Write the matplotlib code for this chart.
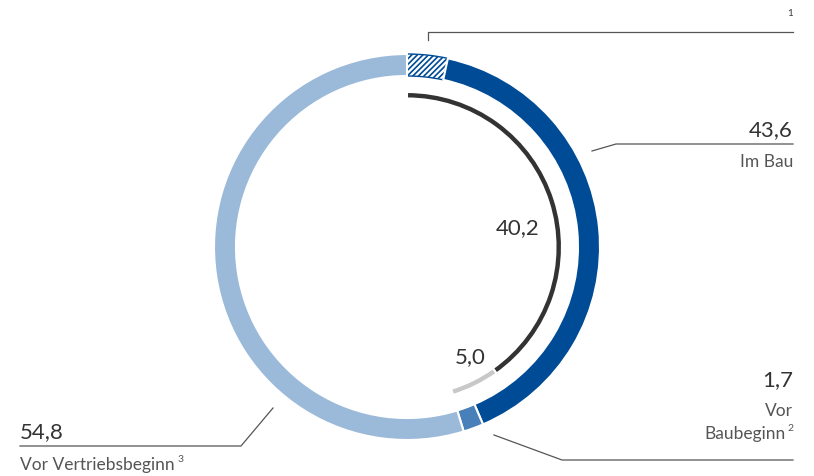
import matplotlib
matplotlib.use('Agg')
import matplotlib.pyplot as plt

plt.rcParams['font.family'] = ['Lato', 'DejaVu Sans']
plt.rcParams['hatch.color'] = '#004b96'
plt.rcParams['hatch.linewidth'] = 1.2

# outer ring (percent)
outer_labels = ['Hatched', 'Im Bau', 'Vor Baubeginn', 'Vor Vertriebsbeginn']
outer_values = [3.4, 40.2, 1.7, 54.8]
outer_colors = ['white', '#004b96', '#4a80b9', '#9bb9d9']

# inner arc
inner_values = [40.2, 5.0, 54.8]
inner_colors = ['#333333', '#c8c8c8', 'none']

W, H = 814, 477
cx, cy = 407, H - 248

fig = plt.figure(figsize=(W / 100, H / 100), dpi=100)
ax = fig.add_axes([0, 0, 1, 1])

wedges, _ = ax.pie(outer_values, colors=outer_colors, startangle=90, counterclock=False,
                   radius=193, center=(cx, cy),
                   wedgeprops=dict(width=22, edgecolor='white', linewidth=1.5))
wedges[0].set_hatch('//////')
wedges[0].set_edgecolor('#004b96')
wedges[0].set_linewidth(1.0)

iw, _ = ax.pie(inner_values, colors=inner_colors, startangle=90, counterclock=False,
               radius=155, center=(cx, cy),
               wedgeprops=dict(width=6.5, edgecolor='white', linewidth=1.5))
iw[2].set_edgecolor('none')

ax.set_xlim(0, W)
ax.set_ylim(0, H)
ax.set_aspect('auto')
ax.axis('off')

txt = '#333333'
sub = '#555555'
line = '#555555'

def y(v):
    return H - v

# footnote 1 at top
ax.plot([428, 428, 793], [y(41), y(33), y(33)], color=line, lw=0.9)
ax.text(793, y(13), '1', ha='right', va='center', fontsize=7, color=txt)

# Im Bau
ax.plot([592, 616, 793], [y(152), y(145), y(145)], color=line, lw=0.9)
ax.text(793, y(130), '43,6', ha='right', va='center', fontsize=16, color=txt)
ax.text(793, y(162), 'Im Bau', ha='right', va='center', fontsize=12.5, color=sub)

# Vor Baubeginn
ax.plot([494, 562, 793], [y(436), y(461), y(461)], color=line, lw=0.9)
ax.text(793, y(380), '1,7', ha='right', va='center', fontsize=16, color=txt)
ax.text(793, y(411), 'Vor', ha='right', va='center', fontsize=12.5, color=sub)
ax.text(786, y(434), 'Baubeginn', ha='right', va='center', fontsize=12.5, color=sub)
ax.text(793, y(429), '2', ha='right', va='center', fontsize=7.5, color=sub)

# Vor Vertriebsbeginn
ax.plot([273, 241, 20], [y(409), y(447), y(447)], color=line, lw=0.9)
ax.text(20, y(432), '54,8', ha='left', va='center', fontsize=16, color=txt)
t = ax.text(20, y(465), 'Vor Vertriebsbeginn', ha='left', va='center', fontsize=12.5, color=sub)
fig.canvas.draw()
bb = t.get_window_extent(renderer=fig.canvas.get_renderer())
ax.text(bb.x1 + 3, y(460), '3', ha='left', va='center', fontsize=7.5, color=sub)

# inner labels
ax.text(540, y(228), '40,2', ha='right', va='center', fontsize=16, color=txt)
ax.text(486, y(357), '5,0', ha='right', va='center', fontsize=16, color=txt)

fig.savefig('out.png', dpi=100)
